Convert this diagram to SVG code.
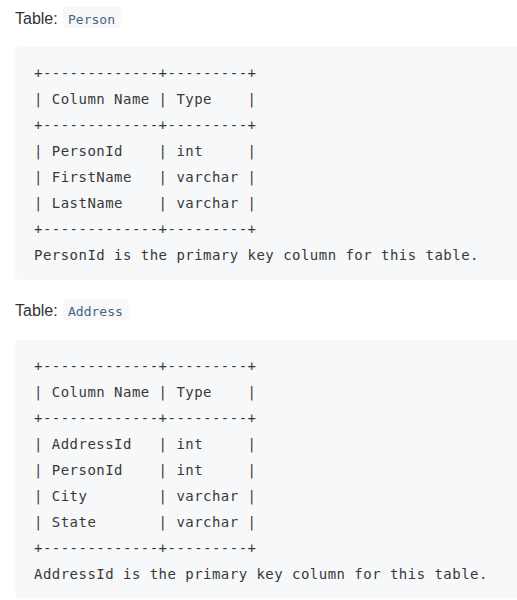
<svg xmlns="http://www.w3.org/2000/svg" width="517" height="600" viewBox="0 0 517 600">
<style>
.lbl{font-family:"Liberation Sans",Arial,sans-serif;font-size:16px;fill:#333}
.chip{fill:#f7f8fa}
.code{font-family:"DejaVu Sans Mono",monospace;font-size:13px;fill:#476582;white-space:pre}
.box{fill:#f7f8fa}
.pre{font-family:"DejaVu Sans Mono",monospace;font-size:14px;letter-spacing:0.47px;fill:#383838;white-space:pre}
</style>
<rect width="517" height="600" fill="#ffffff"/>
<g id="person-title">
<text class="lbl" x="15" y="24">Table:</text>
<rect class="chip" x="63" y="7" width="58" height="21" rx="3"/>
<text class="code" x="68" y="24" xml:space="preserve">Person</text>
</g>
<g id="person-table">
<rect class="box" x="15" y="47" width="510" height="233" rx="4"/>
<text class="pre" xml:space="preserve"><tspan x="34" y="78">+-------------+---------+</tspan><tspan x="34" y="104">| Column Name | Type    |</tspan><tspan x="34" y="130">+-------------+---------+</tspan><tspan x="34" y="156">| PersonId    | int     |</tspan><tspan x="34" y="182">| FirstName   | varchar |</tspan><tspan x="34" y="208">| LastName    | varchar |</tspan><tspan x="34" y="234">+-------------+---------+</tspan><tspan x="34" y="260">PersonId is the primary key column for this table.</tspan></text>
</g>
<g id="address-title">
<text class="lbl" x="15" y="316">Table:</text>
<rect class="chip" x="63" y="299" width="66" height="21" rx="3"/>
<text class="code" x="68" y="316" xml:space="preserve">Address</text>
</g>
<g id="address-table">
<rect class="box" x="15" y="340" width="510" height="258" rx="4"/>
<text class="pre" xml:space="preserve"><tspan x="34" y="371">+-------------+---------+</tspan><tspan x="34" y="397">| Column Name | Type    |</tspan><tspan x="34" y="423">+-------------+---------+</tspan><tspan x="34" y="449">| AddressId   | int     |</tspan><tspan x="34" y="475">| PersonId    | int     |</tspan><tspan x="34" y="501">| City        | varchar |</tspan><tspan x="34" y="527">| State       | varchar |</tspan><tspan x="34" y="553">+-------------+---------+</tspan><tspan x="34" y="579">AddressId is the primary key column for this table.</tspan></text>
</g>
</svg>
